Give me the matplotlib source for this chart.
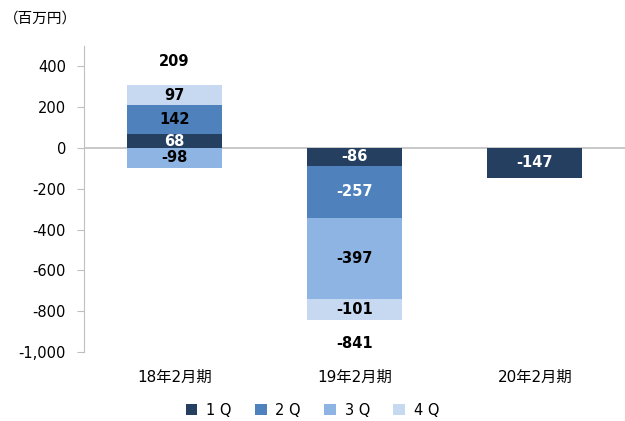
import matplotlib.pyplot as plt
import numpy as np

plt.rcParams['font.family'] = ['DejaVu Sans', 'Noto Sans CJK JP']

# Data (百万円)
periods = ["18年2月期", "19年2月期", "20年2月期"]
quarters = ["1 Q", "2 Q", "3 Q", "4 Q"]
q1 = [68, -86, -147]
q2 = [142, -257, np.nan]
q3 = [-98, -397, np.nan]
q4 = [97, -101, np.nan]
totals = [209, -841, None]

colors = ["#243F60", "#4F81BD", "#8EB4E3", "#C6D9F1"]
label_colors = [["white", "white", "white"],
                ["black", "white", "white"],
                ["black", "black", "black"],
                ["black", "black", "black"]]

num_font = "DejaVu Sans"

fig = plt.figure(figsize=(6.25, 4.21), dpi=100)
ax = fig.add_axes([84 / 625, 1 - 352 / 421, (625 - 84) / 625, (352 - 46) / 421])

x = np.arange(len(periods))
width = 0.525
pos_base = np.zeros(len(periods))
neg_base = np.zeros(len(periods))

for i, vals in enumerate([q1, q2, q3, q4]):
    vals = np.array(vals, dtype=float)
    v = np.nan_to_num(vals)
    bottom = np.where(v >= 0, pos_base, neg_base)
    ax.bar(x, v, width, bottom=bottom, color=colors[i], label=quarters[i], zorder=2)
    for j in range(len(periods)):
        if np.isnan(vals[j]):
            continue
        ax.text(x[j], bottom[j] + v[j] / 2, f"{int(vals[j])}", ha="center", va="center",
                fontsize=10.5, fontweight="bold", color=label_colors[i][j],
                family=num_font, zorder=3)
    pos_base = pos_base + np.where(v >= 0, v, 0)
    neg_base = neg_base + np.where(v < 0, v, 0)

# totals
for j, t in enumerate(totals):
    if t is None:
        continue
    y = pos_base[j] + 115 if t >= 0 else neg_base[j] - 115
    ax.text(x[j], y, f"{t:,}", ha="center", va="center", fontsize=10.5,
            fontweight="bold", color="black", family=num_font)

ax.axhline(0, color="#BFBFBF", linewidth=1.2, zorder=1)
ax.set_xlim(-0.5, 2.5)
ax.set_ylim(-1000, 500)
ax.set_yticks(np.arange(-1000, 401, 200))
ax.set_yticklabels([f"{v:,}" for v in range(-1000, 401, 200)], family=num_font)
ax.set_xticks(x)
ax.set_xticklabels(periods, family=['DejaVu Sans', 'Noto Sans CJK JP'])

for s in ["top", "right", "bottom"]:
    ax.spines[s].set_visible(False)
ax.spines["left"].set_color("#BFBFBF")
ax.tick_params(axis="y", colors="#BFBFBF", labelcolor="black", labelsize=10.5, length=5, pad=8)
ax.tick_params(axis="x", length=0, labelsize=11, pad=13)

fig.text(0.006, 0.957, "（百万円）", fontsize=10.5, family=['Noto Sans CJK JP'], va="center")

leg = fig.legend(loc="center", bbox_to_anchor=(0.5, 0.025), ncol=4, frameon=False,
                 handlelength=0.8, handleheight=0.8, columnspacing=1.6,
                 handletextpad=0.6, prop={"family": num_font, "size": 10.5})

fig.savefig("out.png", dpi=100)
